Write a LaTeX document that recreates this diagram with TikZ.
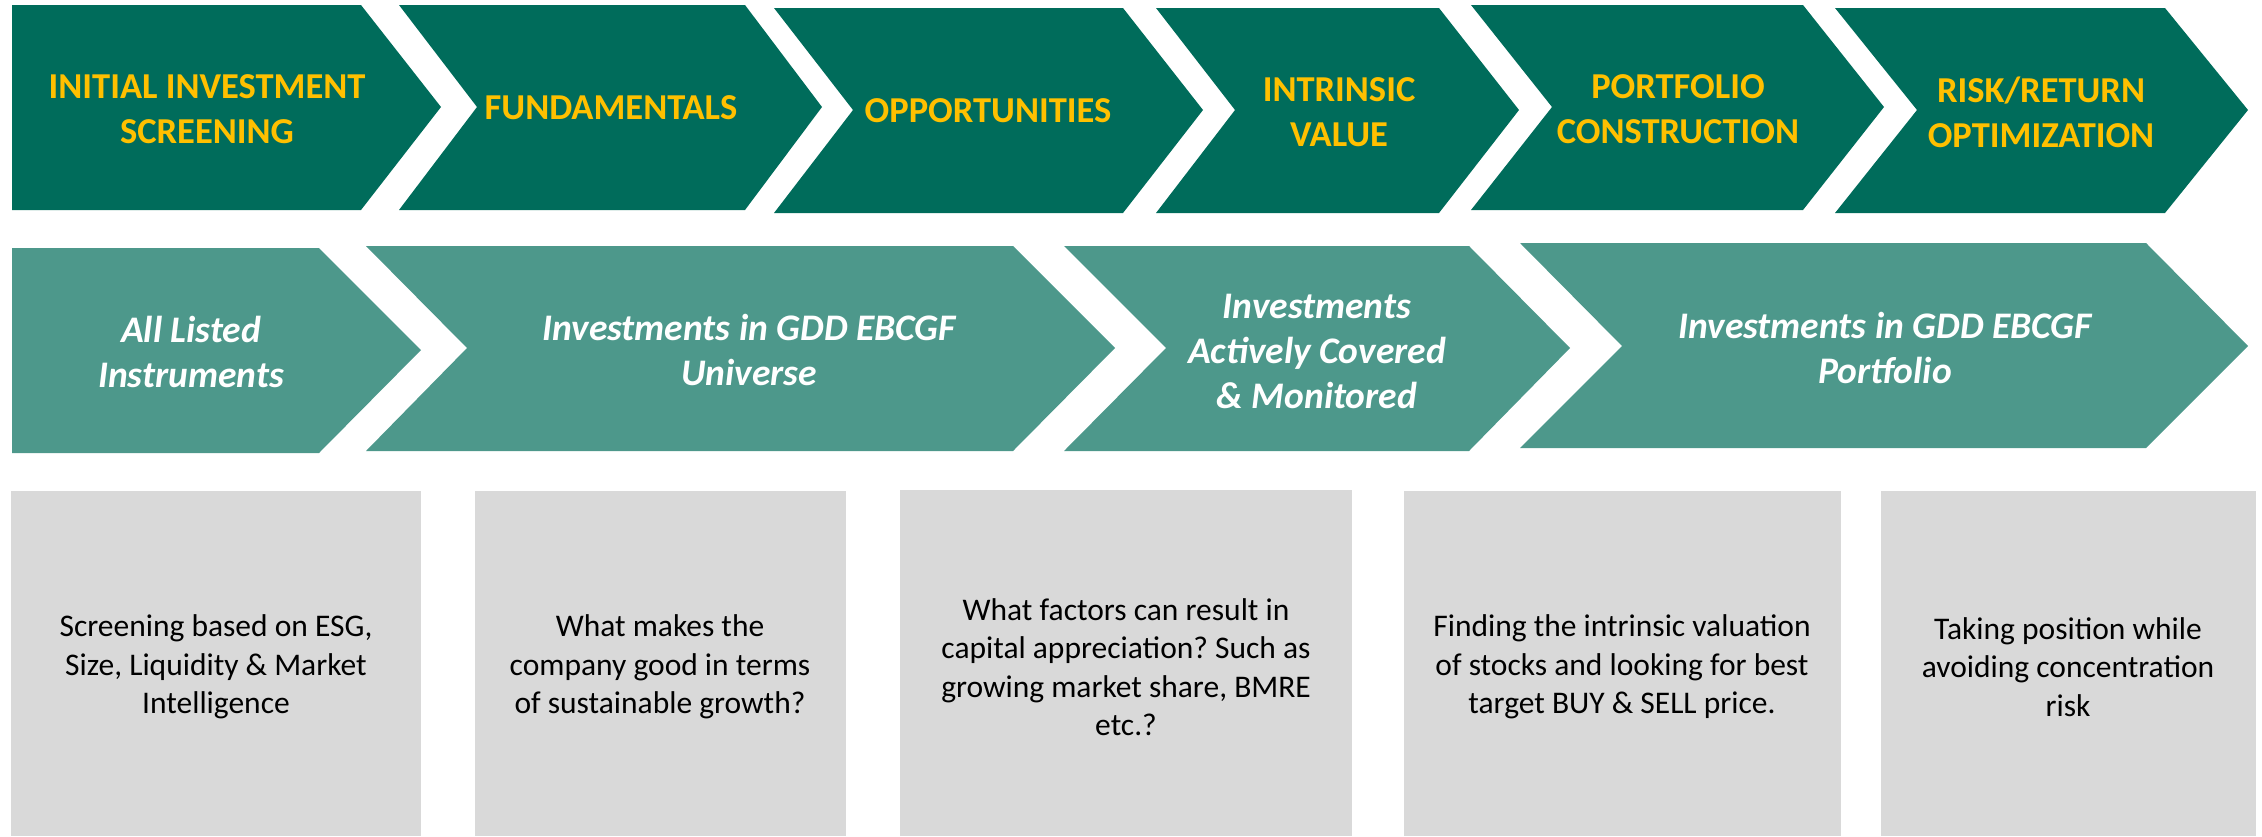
\documentclass[tikz,border=0pt]{standalone}
\usepackage{fontspec}
\setmainfont{Carlito}
\frenchspacing
\definecolor{darkgreen}{HTML}{006C5B}
\definecolor{tealg}{HTML}{4D988B}
\definecolor{goldy}{HTML}{FFC000}
\definecolor{lightgray}{HTML}{D9D9D9}
\begin{document}
\begin{tikzpicture}[x=1pt,y=-1pt,
  topchev/.style={fill=darkgreen},
  midchev/.style={fill=tealg},
  infobox/.style={fill=lightgray},
  toptext/.style={inner sep=0pt, align=center, text=goldy, font=\fontsize{36.5}{45}\selectfont\bfseries},
  midtext/.style={inner sep=0pt, align=center, text=white, font=\fontsize{37.5}{45}\selectfont\bfseries\itshape},
  boxtext/.style={inner sep=0pt, align=center, text=black, font=\fontsize{31.5}{38.5}\selectfont}]
\useasboundingbox (0,0) rectangle (2262,836);
% top row
\fill[topchev] (12,5) -- (361,5) -- (441,107) -- (361,210) -- (12,210) -- cycle;
\fill[topchev] (399,5) -- (745,5) -- (822,107) -- (745,210) -- (399,210) -- (477,107) -- cycle;
\fill[topchev] (774,8) -- (1123,8) -- (1203,110) -- (1123,213) -- (774,213) -- (853,110) -- cycle;
\fill[topchev] (1156,8) -- (1439,8) -- (1519,110) -- (1439,213) -- (1156,213) -- (1235,110) -- cycle;
\fill[topchev] (1471,5) -- (1803,5) -- (1884,107) -- (1803,210) -- (1471,210) -- (1552,107) -- cycle;
\fill[topchev] (1835,8) -- (2165,8) -- (2248,110) -- (2165,213) -- (1835,213) -- (1917,110) -- cycle;
\node[toptext] (t1) at (207,109) {INITIAL INVESTMENT\\SCREENING};
\node[toptext] (t2) at (611,108) {FUNDAMENTALS};
\node[toptext] (t3) at (988,111) {OPPORTUNITIES};
\node[toptext] (t4) at (1339,112) {INTRINSIC\\VALUE};
\node[toptext] (t5) at (1678,109) {PORTFOLIO\\CONSTRUCTION};
\node[toptext] (t6) at (2041,112) {RISK/RETURN\\OPTIMIZATION};
% middle row
\fill[midchev] (12,248) -- (319,248) -- (421,350) -- (319,453) -- (12,453) -- cycle;
\fill[midchev] (366,246) -- (1013,246) -- (1115,348) -- (1013,451) -- (366,451) -- (467,348) -- cycle;
\fill[midchev] (1064,246) -- (1469,246) -- (1570,348) -- (1469,451) -- (1064,451) -- (1166,348) -- cycle;
\fill[midchev] (1520,243) -- (2146,243) -- (2248,346) -- (2146,448) -- (1520,448) -- (1622,346) -- cycle;
\node[midtext] (s1) at (191,352) {All Listed\\Instruments};
\node[midtext] (s2) at (749,350) {Investments in GDD EBCGF\\Universe};
\node[midtext] (s3) at (1317,351) {Investments\\Actively Covered\\\& Monitored};
\node[midtext] (s4) at (1885,348) {Investments in GDD EBCGF\\Portfolio};
% bottom boxes
\fill[infobox] (11,491) rectangle (421,836);
\fill[infobox] (475,491) rectangle (846,836);
\fill[infobox] (900,490) rectangle (1352,836);
\fill[infobox] (1404,491) rectangle (1841,836);
\fill[infobox] (1881,491) rectangle (2256,836);
\node[boxtext] (b1) at (216,667) {Screening based on ESG,\\Size, Liquidity \& Market\\Intelligence};
\node[boxtext] (b2) at (660,667) {What makes the\\company good in terms\\of sustainable growth?};
\node[boxtext] (b3) at (1126,667) {What factors can result in\\capital appreciation? Such as\\growing market share, BMRE\\etc.?};
\node[boxtext] (b4) at (1622,667) {Finding the intrinsic valuation\\of stocks and looking for best\\target BUY \& SELL price.};
\node[boxtext] (b5) at (2068,667) {Taking position while\\avoiding concentration\\risk};
\end{tikzpicture}
\end{document}
